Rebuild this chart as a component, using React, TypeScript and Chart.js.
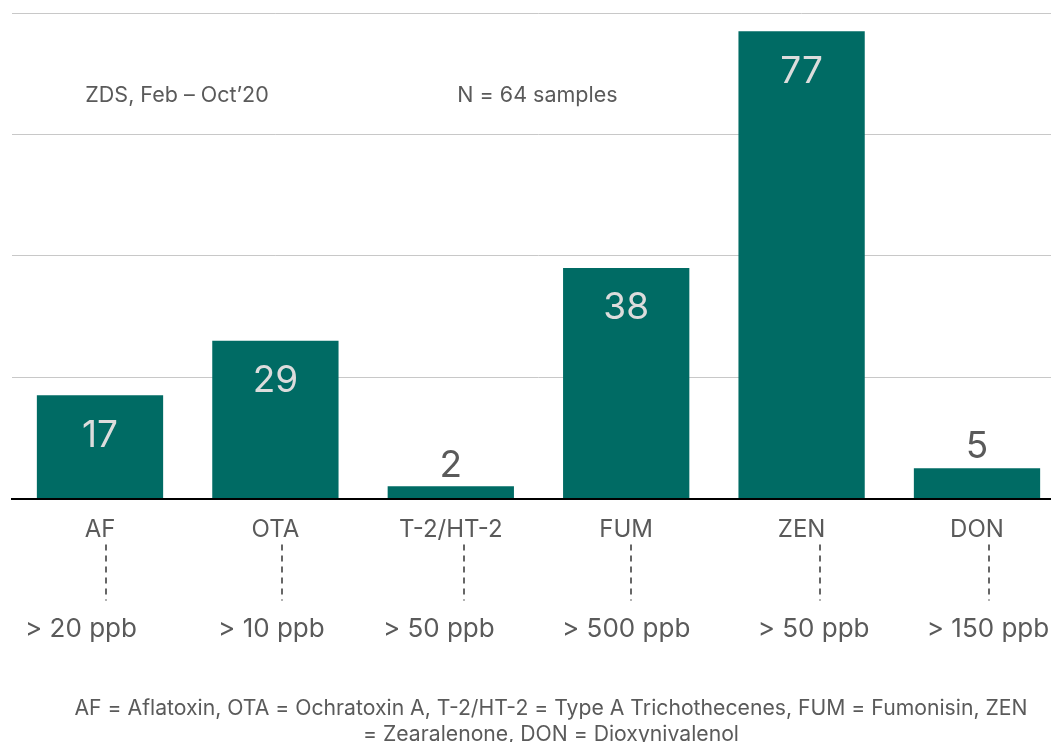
import React, { useEffect, useRef } from "react";
import { Chart, registerables } from "chart.js";

Chart.register(...registerables);

// ---- data ----
const categories = ["AF", "OTA", "T-2/HT-2", "FUM", "ZEN", "DON"];
const barValues = [17, 26, 2, 38, 77, 5];
const valueLabels = ["17", "29", "2", "38", "77", "5"];
const thresholds = ["> 20 ppb", "> 10 ppb", "> 50 ppb", "> 500 ppb", "> 50 ppb", "> 150 ppb"];
const yTicks = [0, 20, 40, 60, 80];
const periodNote = "ZDS, Feb – Oct’20";
const sampleNote = "N = 64 samples";
const footnote = [
  "AF = Aflatoxin, OTA = Ochratoxin A, T-2/HT-2 = Type A Trichothecenes, FUM = Fumonisin, ZEN",
  "= Zearalenone, DON = Dioxynivalenol",
];

// ---- styling ----
const FONT = "Inter, 'Liberation Sans', sans-serif";
const TEAL = "#006B64";
const GRAY = "#5a5a5a";
const LIGHT = "#dcdcdc";
const GRID = "#c8c8c8";
const dotDx = [6, 7, 13, 5, 18, 12];
const noteDx = [-19, -4, -12, 0, 12, 11];

const annotations = {
  id: "annotations",
  afterDraw(chart: any) {
    const ctx = chart.ctx as CanvasRenderingContext2D;
    const meta = chart.getDatasetMeta(0);
    const xs = chart.scales.x;
    const area = chart.chartArea;
    ctx.save();
    ctx.textAlign = "center";
    ctx.textBaseline = "alphabetic";
    meta.data.forEach((bar: any, i: number) => {
      const { x, y } = bar.getProps(["x", "y"], true);
      // value label
      const vs = 37;
      ctx.font = `${vs}px ${FONT}`;
      const inside = barValues[i] > 10;
      ctx.fillStyle = inside ? LIGHT : GRAY;
      const cy = inside ? y + 38 : y - 23;
      ctx.fillText(valueLabels[i], x, cy + vs * 0.36);
      // dotted connector
      const dx = Math.round(x + dotDx[i]);
      ctx.strokeStyle = "#666";
      ctx.lineWidth = 2;
      ctx.setLineDash([6, 5]);
      ctx.beginPath();
      ctx.moveTo(dx, xs.top + 46);
      ctx.lineTo(dx, xs.top + 102);
      ctx.stroke();
      ctx.setLineDash([]);
      // threshold
      const ts = 26;
      ctx.font = `${ts}px ${FONT}`;
      ctx.fillStyle = GRAY;
      ctx.fillText(thresholds[i], x + noteDx[i], xs.top + 129 + ts * 0.36);
    });
    // top notes
    const ns = 21.5;
    ctx.font = `${ns}px ${FONT}`;
    ctx.fillStyle = GRAY;
    ctx.textAlign = "left";
    ctx.fillText(periodNote, area.left + 73, area.top + 81 + ns * 0.36);
    ctx.fillText(sampleNote, area.left + 445, area.top + 81 + ns * 0.36);
    // footnote
    const fs = 21.2;
    ctx.font = `${fs}px ${FONT}`;
    ctx.textAlign = "center";
    footnote.forEach((line, k) => {
      ctx.fillText(line, 551, 707 + k * 26 + fs * 0.36);
    });
    ctx.restore();
  },
};

export default function App() {
  const ref = useRef<HTMLCanvasElement>(null);
  useEffect(() => {
    if (!ref.current) return;
    const chart = new Chart(ref.current, {
      type: "bar",
      data: {
        labels: categories,
        datasets: [
          {
            data: barValues,
            backgroundColor: TEAL,
            borderWidth: 0,
            barPercentage: 0.9,
            categoryPercentage: 0.8,
          },
        ],
      },
      options: {
        responsive: false,
        animation: false,
        devicePixelRatio: 1,
        layout: { padding: { left: 12.3, right: 35.3, top: 13, bottom: 0 } },
        plugins: {
          legend: { display: false },
          tooltip: { enabled: false },
          title: { display: false },
        },
        scales: {
          x: {
            grid: { display: false },
            border: { display: true, color: "#000", width: 2 },
            ticks: {
              color: GRAY,
              font: { family: FONT, size: 24, lineHeight: 1.2 },
              padding: 9,
              autoSkip: false,
              maxRotation: 0,
            },
            afterFit: (scale: any) => {
              scale.height = 742 - 498.5;
            },
          },
          y: {
            min: yTicks[0],
            max: yTicks[yTicks.length - 1],
            afterBuildTicks: (scale: any) => {
              scale.ticks = yTicks.map((v) => ({ value: v }));
            },
            grid: { color: GRID, lineWidth: 1, drawTicks: false },
            border: { display: false },
            ticks: { display: false },
            afterFit: (scale: any) => {
              scale.width = 0;
            },
          },
        },
      },
      plugins: [annotations],
    });
    return () => chart.destroy();
  }, []);
  return (
    <div
      style={{
        position: "fixed",
        left: 0,
        top: 0,
        width: 1051,
        height: 742,
        overflow: "hidden",
        background: "#fff",
      }}
    >
      <canvas ref={ref} width={1100} height={742} style={{ display: "block" }} />
    </div>
  );
}
